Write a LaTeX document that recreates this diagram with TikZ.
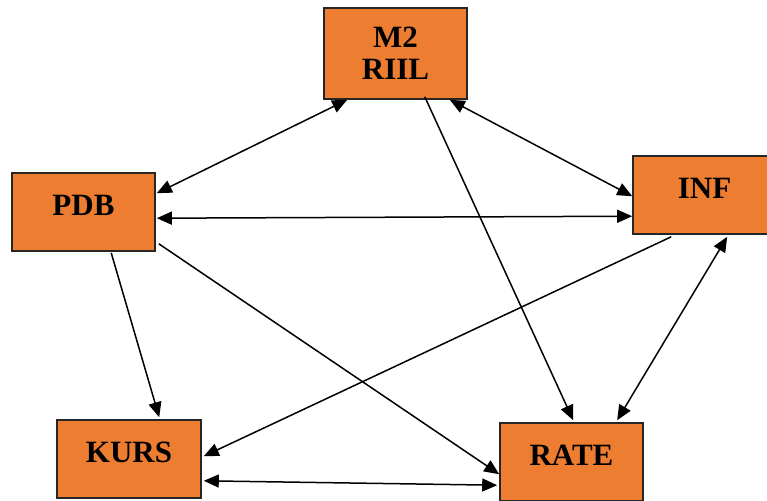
\documentclass[tikz,border=0pt]{standalone}
\usepackage{fontspec}
\setmainfont{Liberation Serif}
\usetikzlibrary{arrows.meta,calc}
\definecolor{boxorange}{HTML}{ED7D31}
\tikzset{every path/.style={line width=0.75pt}}
\tikzset{box/.style={draw=black!85,line width=0.8pt,fill=boxorange,minimum width=71.5pt,minimum height=39pt,inner sep=0pt,font=\fontsize{15.5}{17}\selectfont\bfseries,text height=8pt,text depth=5pt},
         tip/.style={-{Triangle[length=7.5pt,width=6.5pt]}},
         tips/.style={{Triangle[length=7.5pt,width=6.5pt]}-{Triangle[length=7.5pt,width=6.5pt]}}}

\begin{document}
\begin{tikzpicture}[x=0.5pt,y=-0.5pt]
\useasboundingbox (0,0) rectangle (767,500);
\node[box,minimum height=45.5pt,text height=,text depth=,align=center] (m2) at (395.5,53.5) {M2\\[-1pt]RIIL};
\node[box] (pdb) at (83.5,212) {PDB};
\node[box] (inf) at (704.5,195) {INF};
\node[box,minimum width=72pt] (kurs) at (129,459) {KURS};
\node[box] (rate) at (571.5,462) {RATE};
\draw[tips] ($(m2.south west)+(24,0)$) -- ($(pdb.north east)+(1,21)$);
\draw[tips] ($(m2.south east)+(-18,0)$) -- ($(inf.north west)+(0,41)$);
\draw[tips] ($(pdb.north east)+(1,46)$) -- ($(inf.north west)+(0,61)$);
\draw[tip] ($(m2.south east)+(-43,-3)$) -- ($(rate.north west)+(74,-2)$);
\draw[tip] ($(pdb.south west)+(100,1)$) -- ($(kurs.north west)+(103,-2)$);
\draw[tip] ($(pdb.south east)+(3,-8)$) -- ($(rate.north west)+(0,52)$);
\draw[tip] ($(inf.south west)+(39,2)$) -- ($(kurs.north east)+(2,37)$);
\draw[tips] ($(inf.south west)+(95,2)$) -- ($(rate.north west)+(118,-2)$);
\draw[tips] ($(kurs.south east)+(2,-18)$) -- ($(rate.north west)+(-2,63)$);
\end{tikzpicture}
\end{document}
